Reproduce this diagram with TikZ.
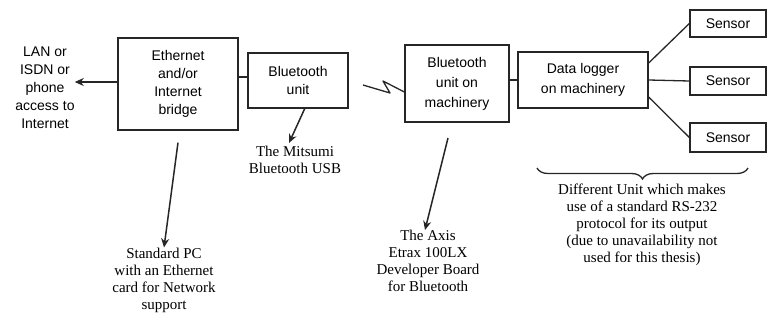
\documentclass[tikz,border=0pt]{standalone}
\usepackage{fontspec}
\setmainfont{Liberation Serif}
\setsansfont{Liberation Sans}
\usetikzlibrary{arrows.meta,calc,decorations.pathreplacing}

\begin{document}
\begin{tikzpicture}[x=1pt,y=-1pt,
  box/.style={draw=black!85, line width=1.3pt, inner sep=0pt, align=center,
    font=\sffamily\fontsize{14}{18}\selectfont},
  plain/.style={align=center, inner sep=0pt, font=\sffamily\fontsize{14}{18}\selectfont},
  note/.style={align=center, inner sep=0pt, font=\rmfamily\fontsize{15}{17}\selectfont},
  wire/.style={draw=black!85, line width=1.3pt},
  pointer/.style={draw=black!85, line width=1.5pt, -{Stealth[length=9pt,width=8pt]}}]
\useasboundingbox (0,0) rectangle (768,321);

% main chain of units
\node[box, minimum width=120pt, minimum height=92pt] (eth) at (178,84)
  {Ethernet\\and/or\\Internet\\bridge};
\node[box, minimum width=100pt, minimum height=55pt] (btu) at (298,80.5)
  {Bluetooth\\unit};
\node[box, minimum width=104pt, minimum height=77pt,
  font=\sffamily\fontsize{14}{20}\selectfont] (btm) at (457,83.5)
  {Bluetooth\\unit on\\machinery};
\node[box, minimum width=130pt, minimum height=56pt,
  font=\sffamily\fontsize{14}{20}\selectfont] (dl) at (583,80)
  {Data logger\\on machinery};

% sensors
\node[box, minimum width=76pt, minimum height=27pt] (s1) at (728,23.5) {Sensor};
\node[box, minimum width=76pt, minimum height=28pt] (s2) at (728,81) {Sensor};
\node[box, minimum width=76pt, minimum height=29pt] (s3) at (728,137.5) {Sensor};

% side labels
\node[plain] (lan) at (45,88) {LAN or\\ISDN or\\phone\\access to\\Internet};
\node[note] (mits) at (295,160) {The Mitsumi\\Bluetooth USB};
\node[note] (pc) at (164,280) {Standard PC\\with an Ethernet\\card for Network\\support};
\node[note] (axis) at (428,261) {The Axis\\Etrax 100LX\\Developer Board\\for Bluetooth};
\node[note] (diff) at (642,225)
  {Different Unit which makes\\use of a standard RS-232\\protocol for its output\\(due to unavailability not\\used for this thesis)};

% links
\draw[pointer] (eth.west |- 0,82) -- (lan.east |- 0,82);
\draw[wire] (eth.east |- 0,77) -- (btu.west |- 0,77);
\draw[wire] (btm.east |- 0,80) -- (dl.west |- 0,80);
\draw[wire] ($(dl.east)+(0,-17)$) -- (s1.west);
\draw[wire] (dl.east) -- (s2.west);
\draw[wire] ($(dl.east)+(0,17)$) -- (s3.west);

% wireless link
\coordinate (z0) at (363,85);
\draw[wire, line join=round] (z0) -- ++(27,8) -- ++(-7,-12) -- (btm.west |- 0,92);

% pointers to the annotations
\coordinate (ethfoot) at ($(eth.south)+(0,12)$);
\draw[pointer] (ethfoot) -- (pc.north);
\coordinate (btufoot) at (305,108);
\draw[pointer] (btufoot) -- (289,143);
\coordinate (btmfoot) at (448,138);
\draw[pointer] (btmfoot) -- (axis.north -| 425,0);

% brace over the serial unit note
\draw[draw=black!85, line width=1.3pt, decorate,
  decoration={brace, mirror, amplitude=11pt}] (537,168) -- (748,168);
\end{tikzpicture}
\end{document}
